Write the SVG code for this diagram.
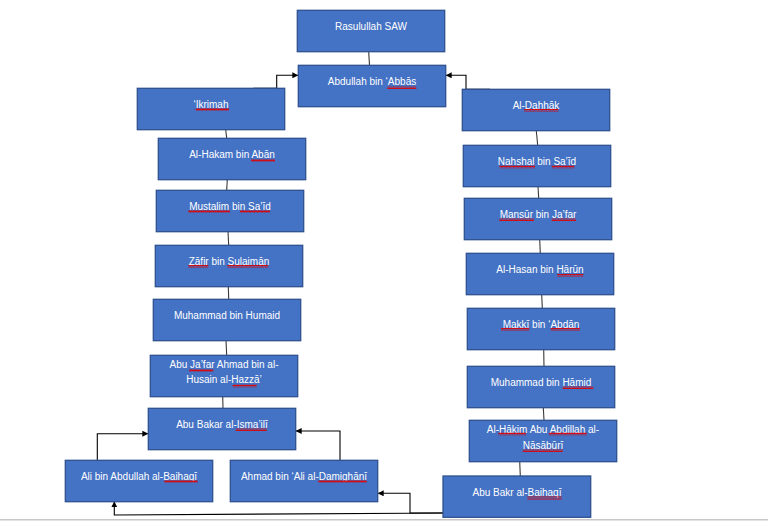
<svg xmlns="http://www.w3.org/2000/svg" width="768" height="521" viewBox="0 0 768 521">
<style>
.box{fill:#4472C4;stroke:#2F528F;stroke-width:1.3}
.t{font-family:"Liberation Sans",Arial,sans-serif;font-size:10px;fill:#ffffff;text-anchor:middle}
.v{stroke:#3a3a3a;stroke-width:1.1;fill:none}
.e{stroke:#000;stroke-width:1.1;fill:none;marker-end:url(#ah)}
.sq{fill:url(#wave)}
</style>
<defs>
<marker id="ah" viewBox="0 0 10 10" refX="10" refY="5" markerWidth="6" markerHeight="6" markerUnits="userSpaceOnUse" orient="auto">
<path d="M0,0 L10,5 L0,10 z" fill="#000"/>
</marker>
<pattern id="wave" patternUnits="userSpaceOnUse" width="4" height="3">
<path d="M0,2.5 L1,0.5 L2,2.5 M2,2.5 L3,0.5 L4,2.5" stroke="#e00000" stroke-width="0.9" fill="none"/>
</pattern>
</defs>
<rect width="768" height="521" fill="#ffffff"/>
<line x1="0" y1="519.8" x2="768" y2="519.8" stroke="#c8c8c8" stroke-width="1.5"/>

<g id="connectors">
<line class="v" x1="368.7" y1="51.7" x2="369.5" y2="65.3"/>
<line class="v" x1="225.7" y1="129.7" x2="226.7" y2="138.3"/>
<line class="v" x1="227.3" y1="179.3" x2="226.7" y2="190.3"/>
<line class="v" x1="228" y1="231.3" x2="228.7" y2="245.3"/>
<line class="v" x1="228.3" y1="286.3" x2="228.7" y2="299.3"/>
<line class="v" x1="226" y1="340.3" x2="226.7" y2="355.3"/>
<line class="v" x1="222.7" y1="396.3" x2="223" y2="408.3"/>
<line class="v" x1="536.3" y1="130.7" x2="537.7" y2="145.3"/>
<line class="v" x1="538" y1="186.3" x2="538.7" y2="198.3"/>
<line class="v" x1="539.7" y1="239.3" x2="540.3" y2="253.3"/>
<line class="v" x1="541.7" y1="294.3" x2="542.3" y2="308.3"/>
<line class="v" x1="543.7" y1="349.3" x2="544" y2="366.3"/>
<line class="v" x1="543.3" y1="407.3" x2="544" y2="420.3"/>
<line class="v" x1="519.7" y1="461.3" x2="520.3" y2="476"/>
<path class="e" d="M253.3,88.3 H276.7 V75.3 H298.3"/>
<path class="e" d="M490,89.3 H466 V75.3 H445.7"/>
<path class="e" d="M97.3,460.3 V433.7 H148.3"/>
<path class="e" d="M340,460.3 V431 H295.7"/>
<path class="e" d="M443,513 H410 V493.3 H377.7"/>
<path class="e" d="M443,513 L410,513.2 L114.3,515 V501.3"/>
</g>

<g id="n-rasulullah">
<rect class="box" x="297.3" y="10.3" width="147.4" height="41.4"/>
<text class="t" x="371" y="30">Rasulullah SAW</text>
</g>
<g id="n-abdullah">
<rect class="box" x="298.3" y="65.3" width="147.4" height="41.4"/>
<text class="t" x="372" y="85">Abdullah bin ‘Abbās</text>
<rect class="sq" x="387.3" y="86" width="29" height="3"/>
</g>
<g id="n-ikrimah">
<rect class="box" x="137.3" y="88.3" width="147.4" height="41.4"/>
<text class="t" x="211" y="108">‘Ikrimah</text>
<rect class="sq" x="195.7" y="108" width="33.3" height="3"/>
</g>
<g id="n-dahhak">
<rect class="box" x="462.3" y="89.3" width="147.4" height="41.4"/>
<text class="t" x="536" y="109">Al-Dahhāk</text>
<rect class="sq" x="524" y="109" width="34.3" height="3"/>
</g>
<g id="n-hakam">
<rect class="box" x="158.3" y="138.3" width="147.4" height="41.4"/>
<text class="t" x="232" y="158">Al-Hakam bin Abān</text>
<rect class="sq" x="251" y="159" width="24" height="3"/>
</g>
<g id="n-mustalim">
<rect class="box" x="156.3" y="190.3" width="147.4" height="41.4"/>
<text class="t" x="230" y="210">Mustalim bin Sa’īd</text>
<rect class="sq" x="188.3" y="210" width="41.7" height="3"/>
<rect class="sq" x="240" y="210" width="30" height="3"/>
</g>
<g id="n-zafir">
<rect class="box" x="155.3" y="245.3" width="147.4" height="41.4"/>
<text class="t" x="229" y="265">Zāfir bin Sulaimān</text>
<rect class="sq" x="188.3" y="265" width="20" height="3"/>
<rect class="sq" x="227.3" y="265" width="41" height="3"/>
</g>
<g id="n-muhammad-humaid">
<rect class="box" x="153.3" y="299.3" width="147.4" height="41.4"/>
<text class="t" x="227" y="319">Muhammad bin Humaid</text>
</g>
<g id="n-abu-jafar">
<rect class="box" x="150.3" y="355.3" width="147.4" height="41.4"/>
<text class="t" x="224" y="367.5">Abu Ja’far Ahmad bin al-</text>
<text class="t" x="224" y="383">Husain al-Hazzā’</text>
<rect class="sq" x="189.3" y="369" width="24" height="3"/>
<rect class="sq" x="232.7" y="384.5" width="24" height="3"/>
</g>
<g id="n-ismaili">
<rect class="box" x="148.3" y="408.3" width="147.4" height="41.4"/>
<text class="t" x="222" y="428">Abu Bakar al-Isma’ilī</text>
<rect class="sq" x="235.7" y="428" width="31" height="3"/>
</g>
<g id="n-ali">
<rect class="box" x="65.3" y="460.3" width="147.4" height="41.4"/>
<text class="t" x="139" y="480">Ali bin Abdullah al-Baihaqī</text>
<rect class="sq" x="164.3" y="480" width="33.4" height="3"/>
</g>
<g id="n-ahmad">
<rect class="box" x="230.3" y="460.3" width="147.4" height="41.4"/>
<text class="t" x="304" y="480">Ahmad bin ‘Ali al-Damighānī</text>
<rect class="sq" x="318.3" y="480" width="48.4" height="3"/>
</g>
<g id="n-nahshal">
<rect class="box" x="463.3" y="145.3" width="147.4" height="41.4"/>
<text class="t" x="537" y="165">Nahshal bin Sa’īd</text>
<rect class="sq" x="499.3" y="165.5" width="35.7" height="3"/>
<rect class="sq" x="551.7" y="165.5" width="22.6" height="3"/>
</g>
<g id="n-mansur">
<rect class="box" x="464.3" y="198.3" width="147.4" height="41.4"/>
<text class="t" x="538" y="218">Mansūr bin Ja’far</text>
<rect class="sq" x="499.3" y="218" width="34.7" height="3"/>
<rect class="sq" x="551.7" y="218" width="24.3" height="3"/>
</g>
<g id="n-hasan">
<rect class="box" x="466.3" y="253.3" width="147.4" height="41.4"/>
<text class="t" x="540" y="273">Al-Hasan bin Hārūn</text>
<rect class="sq" x="557.3" y="274" width="26" height="3"/>
</g>
<g id="n-makki">
<rect class="box" x="467.3" y="308.3" width="147.4" height="41.4"/>
<text class="t" x="541" y="328">Makkī bin ‘Abdān</text>
<rect class="sq" x="501" y="328" width="28.3" height="3"/>
<rect class="sq" x="550.7" y="328" width="29.3" height="3"/>
</g>
<g id="n-muhammad-hamid">
<rect class="box" x="467.3" y="366.3" width="147.4" height="41.4"/>
<text class="t" x="541" y="386">Muhammad bin Hāmid</text>
<rect class="sq" x="562.7" y="386" width="30.6" height="3"/>
</g>
<g id="n-hakim">
<rect class="box" x="469.3" y="420.3" width="147.4" height="41.4"/>
<text class="t" x="543" y="432.7">Al-Hākim Abu Abdillah al-</text>
<text class="t" x="543" y="448.5">Nāsābūrī</text>
<rect class="sq" x="498.3" y="432.5" width="27.7" height="3"/>
<rect class="sq" x="549" y="432.5" width="37.7" height="3"/>
<rect class="sq" x="522.7" y="449" width="40" height="3"/>
</g>
<g id="n-abubakr-baihaqi">
<rect class="box" x="443" y="476" width="147.7" height="41.3"/>
<text class="t" x="517" y="496">Abu Bakr al-Baihaqī</text>
<rect class="sq" x="527.3" y="496.5" width="34.4" height="3"/>
</g>
</svg>
